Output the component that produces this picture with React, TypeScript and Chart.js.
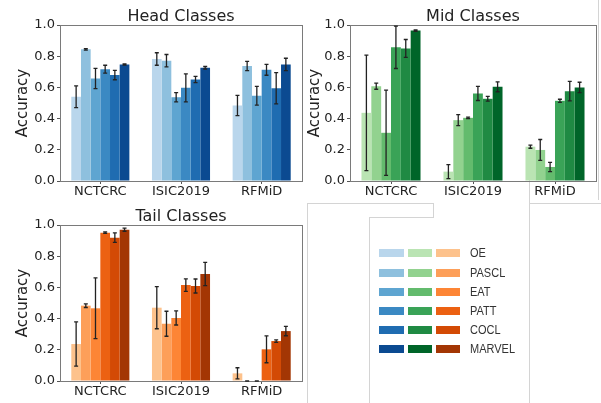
import React, { useEffect, useRef } from 'react';
import { Chart, registerables } from 'chart.js';
Chart.register(...registerables);

const categories = ['NCTCRC', 'ISIC2019', 'RFMiD'];
const methods = ['OE', 'PASCL', 'EAT', 'PATT', 'COCL', 'MARVEL'];
const yTickValues = [0, 0.2, 0.4, 0.6, 0.8, 1.0];

// rows: methods, columns: categories (NCTCRC, ISIC2019, RFMiD)
const headMean = [
  [0.54, 0.782, 0.484],
  [0.844, 0.771, 0.737],
  [0.657, 0.537, 0.546],
  [0.717, 0.597, 0.713],
  [0.679, 0.651, 0.595],
  [0.747, 0.726, 0.747],
];
const headErr = [
  [0.07, 0.04, 0.065],
  [0.005, 0.04, 0.03],
  [0.065, 0.03, 0.06],
  [0.025, 0.09, 0.035],
  [0.03, 0.02, 0.1],
  [0.004, 0.008, 0.04],
];
const midMean = [
  [0.437, 0.06, 0.22],
  [0.608, 0.39, 0.199],
  [0.309, 0.405, 0.09],
  [0.857, 0.561, 0.514],
  [0.85, 0.527, 0.576],
  [0.964, 0.604, 0.6],
];
const midErr = [
  [0.37, 0.045, 0.01],
  [0.02, 0.035, 0.067],
  [0.273, 0.005, 0.03],
  [0.136, 0.045, 0.01],
  [0.057, 0.015, 0.063],
  [0.004, 0.032, 0.033],
];
const tailMean = [
  [0.237, 0.47, 0.049],
  [0.483, 0.367, 0],
  [0.466, 0.404, 0],
  [0.951, 0.615, 0.203],
  [0.919, 0.609, 0.256],
  [0.97, 0.686, 0.32],
];
const tailErr = [
  [0.142, 0.135, 0.036],
  [0.012, 0.08, 0],
  [0.195, 0.045, 0],
  [0.005, 0.04, 0.086],
  [0.03, 0.045, 0.008],
  [0.01, 0.075, 0.03],
];

const blues = ['#b9d6ec', '#8ec0de', '#5ea5d1', '#3b89c3', '#1f6cb1', '#0b4a91'];
const greens = ['#bae4b3', '#92d28f', '#63bb6d', '#3aa357', '#1f8a43', '#006529'];
const oranges = ['#fdc28c', '#fd9f59', '#fd8535', '#ec6112', '#d34a05', '#a33604'];

const W = 601;
const H = 403;
const YW = 50;
const XH = 30;
const FONT = "'DejaVu Sans', sans-serif";

type Box = { left: number; top: number; right: number; bottom: number; labelOff: number };

function Panel({ title, means, errs, colors, box }: { title: string; means: number[][]; errs: number[][]; colors: string[]; box: Box }) {
  const ref = useRef<HTMLCanvasElement>(null);
  useEffect(() => {
    const framePlugin = {
      id: 'frameAndErr',
      afterDatasetsDraw(chart: any) {
        const { ctx, chartArea } = chart;
        const ys = chart.scales.y;
        ctx.save();
        // frame
        ctx.strokeStyle = '#7a7a7a';
        ctx.lineWidth = 1;
        ctx.strokeRect(Math.round(chartArea.left) + 0.5, Math.round(chartArea.top) + 0.5,
          Math.round(chartArea.right - chartArea.left), Math.round(chartArea.bottom - chartArea.top));
        // error bars
        ctx.strokeStyle = '#222';
        ctx.lineWidth = 1.3;
        chart.data.datasets.forEach((ds: any, i: number) => {
          const meta = chart.getDatasetMeta(i);
          meta.data.forEach((el: any, j: number) => {
            const v = ds.data[j];
            const e = ds.errors[j];
            const x = el.x;
            const y1 = ys.getPixelForValue(v + e);
            const y2 = ys.getPixelForValue(v - e);
            ctx.beginPath();
            ctx.moveTo(x, y1);
            ctx.lineTo(x, y2);
            ctx.moveTo(x - 2, y1);
            ctx.lineTo(x + 2, y1);
            ctx.moveTo(x - 2, y2);
            ctx.lineTo(x + 2, y2);
            ctx.stroke();
          });
        });
        // title
        ctx.fillStyle = '#222';
        ctx.font = `16px ${FONT}`;
        ctx.textAlign = 'center';
        ctx.textBaseline = 'alphabetic';
        ctx.fillText(title, (chartArea.left + chartArea.right) / 2, chartArea.top - 4);
        ctx.restore();
      },
    };
    const chart = new Chart(ref.current as HTMLCanvasElement, {
      type: 'bar',
      data: {
        labels: categories,
        datasets: methods.map((m, i) => ({
          label: m,
          data: means[i],
          errors: errs[i],
          backgroundColor: colors[i],
          borderWidth: 0,
          categoryPercentage: 0.72,
          barPercentage: 1,
        })) as any,
      },
      options: {
        responsive: false,
        animation: false,
        devicePixelRatio: 1,
        layout: {
          padding: { left: box.left - YW, top: box.top, right: W - box.right, bottom: H - box.bottom - XH },
        },
        plugins: { legend: { display: false }, tooltip: { enabled: false }, title: { display: false } },
        scales: {
          x: {
            grid: { display: true, drawOnChartArea: false, offset: false, tickLength: 3, color: '#555' },
            border: { display: false },
            ticks: { color: '#222', font: { family: FONT, size: 13 }, padding: 0, maxRotation: 0 },
            afterFit: (s: any) => { s.height = XH; },
          },
          y: {
            min: 0,
            max: 1,
            afterBuildTicks: (s: any) => { s.ticks = yTickValues.map((v) => ({ value: v })); },
            grid: { display: true, drawOnChartArea: false, tickLength: 3, color: '#555' },
            border: { display: false },
            ticks: { color: '#222', font: { family: FONT, size: 13 }, padding: 2, callback: (v: any) => Number(v).toFixed(1) },
            title: { display: true, text: 'Accuracy', color: '#222', font: { family: FONT, size: 15 }, padding: { top: YW - box.labelOff - 9, bottom: 0 } },
            afterFit: (s: any) => { s.width = YW; },
          },
        },
      } as any,
      plugins: [framePlugin],
    });
    return () => chart.destroy();
  }, []);
  return <canvas ref={ref} width={W} height={H} style={{ position: 'absolute', left: 0, top: 0, width: W, height: H }} />;
}

const line = (l: number, t: number, w: number, h: number) => (
  <div style={{ position: 'absolute', left: l, top: t, width: w, height: h, background: '#d4d4d4' }} />
);

export default function App() {
  const rowY = [253, 273, 292, 311, 330, 349];
  return (
    <div style={{ position: 'absolute', left: 0, top: 0, width: W, height: H, background: '#fff', overflow: 'hidden' }}>
      {line(307, 203, 126, 1)}
      {line(433, 203, 1, 15)}
      {line(369, 217, 65, 1)}
      {line(369, 217, 1, 190)}
      {line(307, 203, 1, 200)}
      {line(529, 180, 1, 230)}
      {line(529, 203, 72, 1)}
      {line(598, 0, 1, 200)}
      <Panel title="Head Classes" means={headMean} errs={headErr} colors={blues} box={{ left: 60, top: 25, right: 302, bottom: 181, labelOff: 37 }} />
      <Panel title="Mid Classes" means={midMean} errs={midErr} colors={greens} box={{ left: 350, top: 25, right: 596, bottom: 181, labelOff: 35 }} />
      <Panel title="Tail Classes" means={tailMean} errs={tailErr} colors={oranges} box={{ left: 60, top: 225, right: 302, bottom: 381, labelOff: 37 }} />
      {methods.map((m, i) => (
        <React.Fragment key={m}>
          <div style={{ position: 'absolute', left: 379, top: rowY[i] - 4, width: 25, height: 8, background: blues[i] }} />
          <div style={{ position: 'absolute', left: 408, top: rowY[i] - 4, width: 24, height: 8, background: greens[i] }} />
          <div style={{ position: 'absolute', left: 436, top: rowY[i] - 4, width: 24, height: 8, background: oranges[i] }} />
          <div style={{ position: 'absolute', left: 470, top: rowY[i] - 8, height: 16, lineHeight: '16px', fontFamily: "'Liberation Sans', Arial, sans-serif", fontSize: 12.5, color: '#333', whiteSpace: 'nowrap', transform: 'scaleX(0.88)', transformOrigin: 'left center' }}>{m}</div>
        </React.Fragment>
      ))}
    </div>
  );
}
